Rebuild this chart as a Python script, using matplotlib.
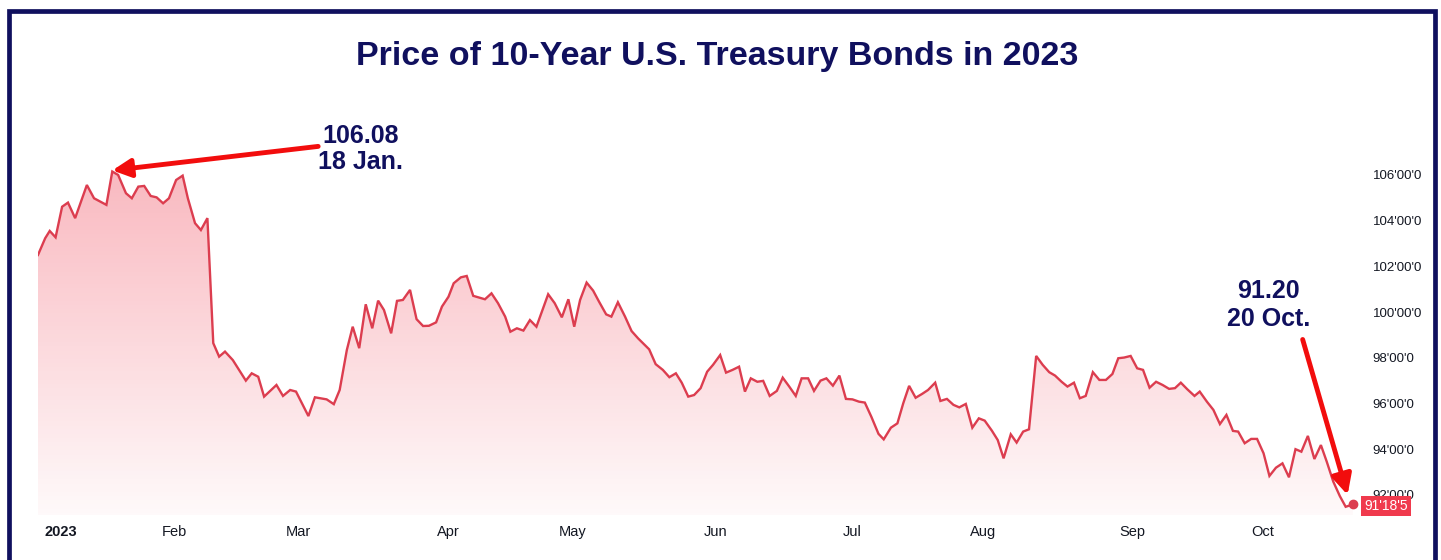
import numpy as np
import matplotlib
matplotlib.use("Agg")
from matplotlib import pyplot as plt
from matplotlib.patches import Rectangle, Polygon
import matplotlib.transforms as mtransforms

bar_pos = [
    -1.0, 0.1, 0.8, 1.7, 2.7, 3.6, 4.7, 6.5, 7.6, 9.5, 10.4, 11.3, 12.5, 13.4,
    14.4, 15.3, 16.3, 17.2, 18.2, 19.1, 20.2, 21.2, 22.0, 23.1, 24.0, 25.0,
    25.9, 26.8, 27.7, 28.9, 30.9, 31.8, 32.8, 33.7, 35.6, 36.6, 37.7, 38.6,
    40.5, 41.5, 43.3, 44.4, 45.3, 46.4, 47.3, 48.3, 49.3, 50.3, 51.2, 52.1,
    53.2, 54.1, 55.0, 56.1, 57.1, 58.1, 59.0, 60.1, 61.0, 62.0, 62.8, 63.9,
    64.8, 65.8, 67.6, 68.6, 69.6, 70.7, 71.5, 72.5, 73.5, 74.5, 75.5, 77.3,
    78.3, 79.4, 80.4, 81.3, 82.2, 83.2, 84.2, 85.1, 86.2, 87.0, 88.0, 89.1,
    90.1, 91.1, 92.8, 93.8, 94.9, 95.9, 96.9, 97.8, 98.8, 99.7, 100.7, 101.7,
    102.6, 103.7, 104.6, 105.6, 106.6, 107.5, 108.4, 109.4, 110.3, 111.3,
    112.4, 113.3, 114.3, 115.3, 116.2, 117.2, 118.1, 119.1, 120.0, 121.0,
    122.0, 123.0, 124.0, 125.0, 125.9, 126.9, 128.0, 128.8, 129.9, 130.9,
    131.8, 132.7, 133.7, 134.7, 135.6, 136.7, 137.5, 138.5, 139.5, 140.4,
    141.4, 142.4, 143.4, 144.3, 145.4, 146.3, 147.2, 148.3, 149.2, 150.2,
    151.1, 152.2, 153.2, 154.2, 155.1, 156.1, 157.0, 158.0, 158.9, 159.8,
    160.9, 161.9, 162.9, 163.9, 164.8, 165.7, 166.7, 167.7, 168.6, 169.6,
    170.6, 171.6, 172.6, 173.5, 174.4, 175.4, 176.5, 177.3, 178.4, 179.4,
    180.4, 181.4, 182.4, 183.2, 184.2, 185.2, 186.1, 187.1, 188.0, 189.0,
    190.0, 191.0, 192.0, 192.9, 193.9, 194.9, 195.9, 196.8, 197.8, 198.8,
    199.7, 200.8,
]
price = [
    102.50, 103.23, 103.55, 103.27, 104.61, 104.79, 104.11, 105.56, 104.98,
    104.69, 106.15, 106.00, 105.20, 104.98, 105.49, 105.52, 105.08, 105.02,
    104.76, 104.98, 105.78, 105.97, 104.98, 103.89, 103.59, 104.11, 98.64,
    98.05, 98.27, 97.90, 97.00, 97.32, 97.17, 96.30, 96.81, 96.33, 96.59,
    96.52, 95.45, 96.27, 96.18, 95.97, 96.59, 98.34, 99.36, 98.42, 100.34,
    99.29, 100.50, 100.09, 99.07, 100.49, 100.53, 100.97, 99.69, 99.39, 99.40,
    99.55, 100.24, 100.67, 101.26, 101.52, 101.58, 100.71, 100.56, 100.82,
    100.39, 99.80, 99.14, 99.29, 99.19, 99.65, 99.36, 100.78, 100.39, 99.77,
    100.56, 99.36, 100.53, 101.29, 100.94, 100.46, 99.90, 99.80, 100.43, 99.80,
    99.17, 98.85, 98.37, 97.72, 97.47, 97.15, 97.32, 96.91, 96.30, 96.37,
    96.67, 97.39, 97.69, 98.12, 97.35, 97.47, 97.61, 96.52, 97.10, 96.95,
    96.99, 96.33, 96.55, 97.13, 96.74, 96.33, 97.10, 97.10, 96.55, 97.00,
    97.10, 96.78, 97.22, 96.20, 96.18, 96.08, 96.04, 95.42, 94.67, 94.43,
    94.94, 95.13, 96.01, 96.77, 96.25, 96.42, 96.59, 96.91, 96.11, 96.20,
    95.94, 95.83, 95.98, 94.94, 95.35, 95.25, 94.81, 94.40, 93.60, 94.65,
    94.29, 94.77, 94.87, 98.08, 97.69, 97.37, 97.22, 96.95, 96.74, 96.91,
    96.23, 96.33, 97.37, 97.03, 97.03, 97.29, 97.98, 98.01, 98.08, 97.54,
    97.47, 96.69, 96.95, 96.81, 96.64, 96.67, 96.91, 96.62, 96.33, 96.52,
    96.08, 95.72, 95.10, 95.50, 94.80, 94.77, 94.26, 94.45, 94.45, 93.82,
    92.83, 93.19, 93.38, 92.77, 94.00, 93.89, 94.58, 93.57, 94.18, 93.45,
    92.58, 91.95, 91.48, 91.58,
]

month_pos = [0, 20, 39, 62, 81, 103, 124, 144, 167, 187]
month_labels = ["2023", "Feb", "Mar", "Apr", "May", "Jun", "Jul", "Aug", "Sep", "Oct"]
price_ticks = [92, 94, 96, 98, 100, 102, 104, 106]
last_price_label = "91'18'5"

title = "Price of 10-Year U.S. Treasury Bonds in 2023"
peak_note = "106.08\n18 Jan."
last_note = "91.20\n20 Oct."

NAVY = "#10105e"
LINE = "#dc3d4f"
TAG = "#f03a4d"
ARROW = "#f20d0d"

fig = plt.figure(figsize=(14.41, 5.6), dpi=100)
ax = fig.add_axes([38 / 1441, 45 / 560, 1322 / 1441, 415 / 560])
xmin, xmax = -1.0, 201.9
ymin, ymax = 91.12, 109.28
ax.set_xlim(xmin, xmax)
ax.set_ylim(ymin, ymax)

# gradient fill under the line
x = np.array(bar_pos)
y = np.array(price)
verts = [(x[0], ymin)] + list(zip(x, y)) + [(x[-1], ymin)]
poly = Polygon(verts, closed=True, facecolor="none", edgecolor="none")
ax.add_patch(poly)
grad = np.zeros((256, 1, 4))
grad[:, 0, 0] = 0.94
grad[:, 0, 1] = 0.22
grad[:, 0, 2] = 0.30
grad[:, 0, 3] = np.linspace(0.03, 0.42, 256)
img = ax.imshow(grad, extent=[xmin, xmax, ymin, ymax], origin="lower",
                aspect="auto", zorder=1)
img.set_clip_path(poly)

ax.plot(x, y, color=LINE, lw=1.7, zorder=3, solid_joinstyle="miter")
ax.plot(x[-1], y[-1], "o", color=LINE, ms=6, zorder=4)

for s in ax.spines.values():
    s.set_visible(False)
ax.set_xticks(month_pos)
ax.set_xticklabels(month_labels, fontsize=10.5, color="#131722",
                   family="Liberation Sans")
first = ax.get_xticklabels()[0]
first.set_fontweight("bold")
first.set_horizontalalignment("left")
ax.tick_params(axis="x", length=0, pad=7)
ax.yaxis.tick_right()
ax.set_yticks(price_ticks)
ax.set_yticklabels(["{}'00'0".format(v) for v in price_ticks], fontsize=9.5,
                   color="#131722", family="Liberation Sans")
ax.tick_params(axis="y", length=0, pad=9)

# last price tag, drawn over the 92 label like in the source chart
tag_tr = mtransforms.blended_transform_factory(ax.transAxes, ax.transData)
ax.text(1.0 + 4 / 1322, y[-1] - 0.05, last_price_label, transform=tag_tr,
        ha="left", va="center", fontsize=10, color="white", zorder=10,
        clip_on=False, family="Liberation Sans",
        bbox=dict(boxstyle="square,pad=0.22", fc=TAG, ec="none"))

# annotations
ax.text(48.5, 107.15, peak_note, ha="center", va="center", fontsize=18,
        fontweight="bold", color=NAVY, linespacing=1.1, family="Liberation Sans")
ax.annotate("", xy=(x[10], y[10] + 0.05), xytext=(42.0, 107.25),
            arrowprops=dict(arrowstyle="-|>,head_length=1.1,head_width=0.55",
                            color=ARROW, lw=3.5, shrinkA=0, shrinkB=0),
            zorder=6)
ax.text(187.8, 100.3, last_note, ha="center", va="center", fontsize=18,
        fontweight="bold", color=NAVY, linespacing=1.2, family="Liberation Sans")
ax.annotate("", xy=(200.0, 92.0), xytext=(193.1, 98.8),
            arrowprops=dict(arrowstyle="-|>,head_length=1.2,head_width=0.6",
                            color=ARROW, lw=3.5, shrinkA=0, shrinkB=0),
            zorder=6)

fig.text(717 / 1441, 1 - 57 / 560, title, ha="center", va="center",
         fontsize=24.5, fontweight="bold", color=NAVY, family="Liberation Sans")

# navy frame around the picture
fig.patches.append(Rectangle((8.5 / 1441, -0.05), (1435 - 8.5) / 1441,
                             1.05 - 11 / 560, transform=fig.transFigure,
                             fill=False, ec=NAVY, lw=3.4, zorder=20))

fig.savefig("out.png", dpi=100)
